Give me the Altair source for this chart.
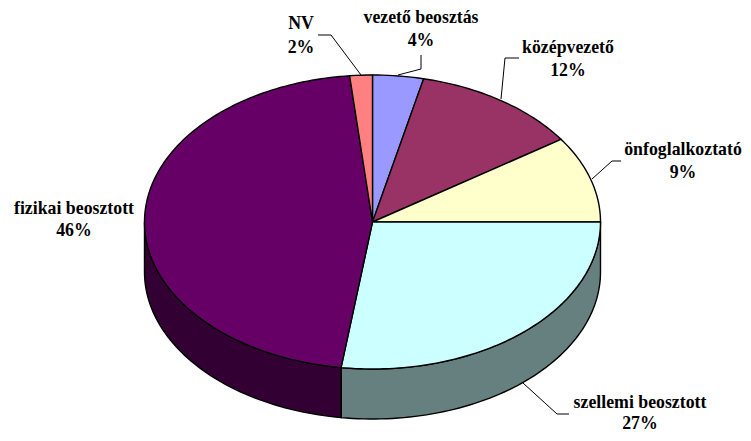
import math
import altair as alt
import pandas as pd

labels = ["vezető beosztás", "középvezető", "önfoglalkoztató", "szellemi beosztott", "fizikai beosztott", "NV"]
# percentages printed on the labels
shares = [4, 12, 9, 27, 46, 2]
drawn = [3.6, 11.9, 9.5, 27.2, 46.2, 1.6]
tops = ["#9999FF", "#993366", "#FFFFCC", "#CCFFFF", "#660066", "#FF8080"]
sides = ["#4C4C80", "#4C1A33", "#808066", "#668080", "#330033", "#804040"]
# label positions (centre of first line)
label_x = [421, 568, 683, 640, 74, 301]
label_y = [17.5, 48, 150, 403, 209, 24]
label_y2 = [41, 71, 173, 423.5, 231, 48]
leaders = {
    0: [(398, 75), (421, 69), (421, 55)],
    1: [(501, 99), (505, 58), (519, 58)],
    2: [(592, 179), (612, 161), (621, 161)],
    3: [(523, 383), (557, 414), (569, 414)],
    5: [(318, 35), (331, 35), (361, 75)],
}

CX, CY, RX, RY, DEPTH = 372.5, 222, 228, 147, 50
PW, PH = 735, 425
OFF = 8

def pt(a, dy=0):
    return CX + RX * math.sin(a), CY - RY * math.cos(a) + dy

rows = []
cum = 0
for i, s in enumerate(drawn):
    a0 = cum / 100 * 2 * math.pi
    cum += s
    a1 = cum / 100 * 2 * math.pi
    n = max(3, int(s * 3))
    angs = [a0 + (a1 - a0) * k / n for k in range(n + 1)]
    lo, hi = max(a0, math.pi / 2), min(a1, 3 * math.pi / 2)
    if lo < hi:
        m = max(3, int((hi - lo) * 40))
        arc = [lo + (hi - lo) * k / m for k in range(m + 1)]
        poly = [pt(a) for a in arc] + [pt(a, DEPTH) for a in reversed(arc)]
        poly.append(poly[0])
        for o, (x, y) in enumerate(poly):
            rows.append(dict(id=f"side{i}", x=x - OFF, y=y - OFF, o=o, col=sides[i]))
    poly = [(CX, CY)] + [pt(a) for a in angs] + [(CX, CY)]
    for o, (x, y) in enumerate(poly):
        rows.append(dict(id=f"top{i}", x=x - OFF, y=y - OFF, o=o, col=tops[i]))
df = pd.DataFrame(rows)

xs = alt.Scale(domain=[0, PW], range=[0, PW])
ys = alt.Scale(domain=[PH, 0], range=[PH, 0])
X = alt.X("x:Q", scale=xs, axis=None)
Y = alt.Y("y:Q", scale=ys, axis=None)

layers = []
for pid, g in df.groupby("id", sort=False):
    layers.append(
        alt.Chart(g)
        .mark_line(fill=g.col.iloc[0], stroke="#000000", strokeWidth=1.4, interpolate="linear")
        .encode(x=X, y=Y, order="o:Q")
    )

lead_rows = []
for k, p in leaders.items():
    for o, (x, y) in enumerate(p):
        lead_rows.append(dict(k=k, x=x - OFF, y=y - OFF, o=o))
lead = (
    alt.Chart(pd.DataFrame(lead_rows))
    .mark_line(color="#000000", strokeWidth=1)
    .encode(x=X, y=Y, detail="k:N", order="o:Q")
)

text_rows = []
for l, s, x, y, y2 in zip(labels, shares, label_x, label_y, label_y2):
    text_rows.append(dict(t=l, x=x - OFF, y=y - OFF))
    text_rows.append(dict(t=f"{s}%", x=x - OFF, y=y2 - OFF))
txt = (
    alt.Chart(pd.DataFrame(text_rows))
    .mark_text(font="Liberation Serif", fontWeight="bold", fontSize=17.8, color="#000000", align="center", baseline="middle")
    .encode(x=X, y=Y, text="t:N")
)

chart = (
    alt.layer(*layers, lead, txt)
    .properties(width=PW, height=PH, padding=0, autosize=alt.AutoSizeParams(type="none"), background="#FFFFFF")
    .configure_view(stroke=None)
)
chart.save("out.html", embed_options={"renderer": "svg", "actions": False})
